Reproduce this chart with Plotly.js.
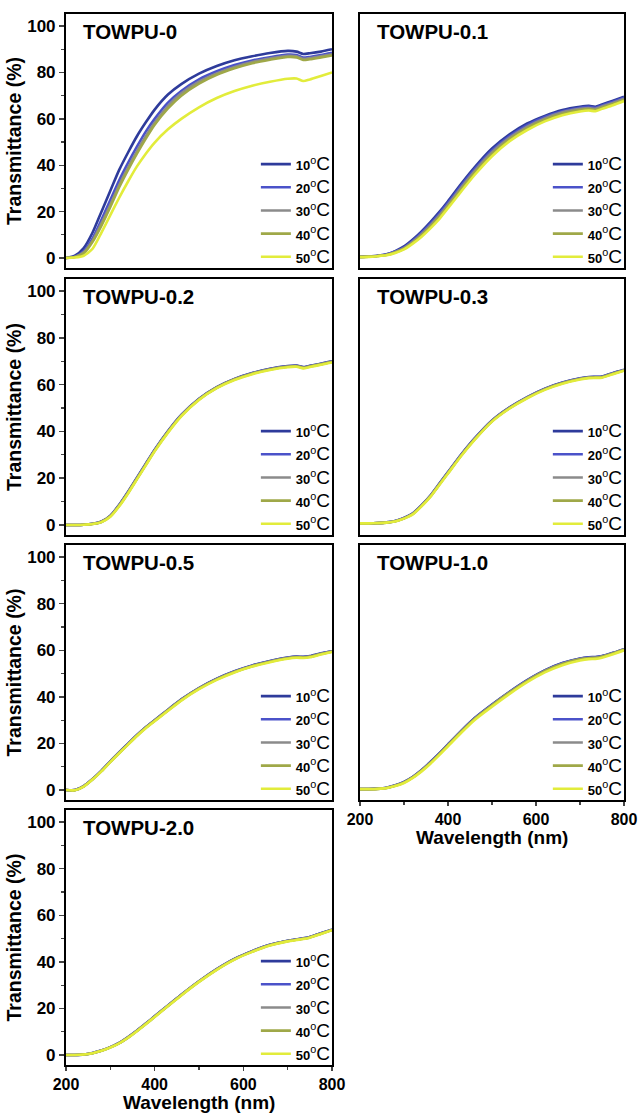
<!DOCTYPE html>
<html><head><meta charset="utf-8">
<script src="https://cdn.plot.ly/plotly-3.0.1.min.js"></script>
<style>html,body{margin:0;padding:0;background:#fff}</style>
</head><body><div id="chart" style="width:640px;height:1113px"></div>
<script>
// Wavelength grid (nm)
const wavelength = [200,220,240,260,280,300,320,340,360,380,400,430,460,500,540,580,620,660,700,720,735,750,775,800];
const temperatureLabels = ['10','20','30','40','50'];
const sampleNames = ['TOWPU-0','TOWPU-0.1','TOWPU-0.2','TOWPU-0.3','TOWPU-0.5','TOWPU-1.0','TOWPU-2.0'];
const xTitle = 'Wavelength (nm)';
const yTitle = 'Transmittance (%)';

// TOWPU-0
const towpu0_10C = [0,1,4.3,11,20,29,38,45.5,52.5,58.5,64,70.5,75,79.5,82.8,85.3,87,88.4,89.3,89,88,88.3,89,90];
const towpu0_20C = [0,0.6,3,8.5,16.5,25,33.5,41,48,54.5,60,67,72,77,80.5,83.2,85.2,86.6,87.7,87.5,86.4,86.7,87.5,88.5];
const towpu0_30C = [0,0.5,2.5,7.5,15,23,31.5,39,46,52.5,58.3,65.5,71,76,79.6,82.4,84.5,86,87.2,87,85.9,86.2,87,87.8];
const towpu0_40C = [0,0.4,2,7,14,22,30.5,38,45,51.5,57.5,64.5,70,75.2,79,81.8,84,85.5,86.7,86.5,85.4,85.7,86.5,87.3];
const towpu0_50C = [0,0.2,1,4,11,18.5,26,33,39.5,45,49.8,55.5,60,65,69,72,74.3,76,77.3,77.4,76.3,77,78.5,80];
// TOWPU-0.1
const towpu01_10C = [0.5,0.7,1,1.6,3,5,8,11.5,15.5,19.8,24.5,32,39,47.2,53.3,58,61.3,63.8,65.2,65.6,65.2,66.2,67.8,69.5];
const towpu01_20C = [0.5,0.7,1,1.5,2.8,4.6,7.5,10.9,14.8,19.1,23.8,31.2,38.2,46.4,52.6,57.3,60.8,63.3,64.8,65.2,64.8,65.8,67.4,69.1];
const towpu01_30C = [0.5,0.6,0.9,1.4,2.6,4.3,7,10.3,14.1,18.3,23,30.4,37.4,45.6,51.9,56.7,60.2,62.8,64.3,64.7,64.3,65.3,66.9,68.7];
const towpu01_40C = [0.5,0.6,0.9,1.3,2.4,4,6.6,9.8,13.5,17.6,22.3,29.6,36.6,44.8,51.2,56,59.6,62.2,63.8,64.2,63.8,64.8,66.4,68.2];
const towpu01_50C = [0.4,0.5,0.8,1.2,2.2,3.7,6.2,9.2,12.8,16.8,21.5,28.7,35.7,43.9,50.4,55.2,58.9,61.6,63.2,63.6,63.3,64.3,65.9,67.7];
// TOWPU-0.2
const towpu02_10C = [0,0,0.1,0.5,1.5,4,8.6,14.2,20.2,26.2,32.2,40.2,47.1,54,59,62.5,65,66.8,68,68.2,67.5,68.1,69,70];
const towpu02_20C = [0,0,0.1,0.5,1.4,3.9,8.5,14,20,26,32,40,47,53.9,58.9,62.4,64.9,66.7,67.9,68.1,67.4,68,68.9,69.9];
const towpu02_30C = [0,0,0.1,0.5,1.4,3.8,8.4,13.9,19.9,25.9,31.9,39.9,46.9,53.8,58.8,62.3,64.8,66.6,67.8,68,67.3,67.9,68.8,69.8];
const towpu02_40C = [0,0,0.1,0.4,1.3,3.7,8.2,13.7,19.7,25.7,31.7,39.7,46.7,53.7,58.7,62.2,64.7,66.5,67.7,67.9,67.2,67.8,68.7,69.7];
const towpu02_50C = [0,0,0.1,0.4,1.2,3.5,8,13.5,19.5,25.5,31.5,39.5,46.5,53.5,58.5,62,64.5,66.3,67.5,67.7,67,67.6,68.5,69.5];
// TOWPU-0.3
const towpu03_10C = [0.7,0.7,0.8,1.1,1.7,3,5,8.5,12.6,17.6,22.6,30.1,36.9,44.7,50.3,54.7,58.3,60.9,62.7,63.3,63.4,63.5,65,66.4];
const towpu03_20C = [0.7,0.7,0.8,1.1,1.7,3,4.9,8.4,12.5,17.5,22.5,30,36.8,44.6,50.2,54.6,58.2,60.8,62.6,63.2,63.3,63.4,64.9,66.3];
const towpu03_30C = [0.7,0.7,0.8,1,1.6,2.9,4.8,8.3,12.3,17.3,22.3,29.8,36.6,44.5,50.1,54.5,58.1,60.7,62.5,63.1,63.2,63.3,64.8,66.2];
const towpu03_40C = [0.7,0.7,0.8,1,1.6,2.8,4.7,8.2,12.2,17.2,22.2,29.7,36.5,44.4,50,54.4,58,60.6,62.4,63,63.1,63.2,64.7,66.1];
const towpu03_50C = [0.7,0.7,0.8,1,1.5,2.7,4.5,8,12,17,22,29.5,36.3,44.2,49.8,54.2,57.8,60.4,62.2,62.8,62.9,63,64.5,66];
// TOWPU-0.5
const towpu05_10C = [0,0,1.7,4.7,8.3,12.3,16.2,19.9,23.6,27,30,34.5,38.9,43.8,47.8,51,53.5,55.4,56.9,57.3,57.2,57.5,58.7,59.6];
const towpu05_20C = [0,0,1.7,4.7,8.2,12.3,16.1,19.8,23.5,26.9,29.9,34.4,38.8,43.7,47.7,50.9,53.4,55.3,56.8,57.2,57.1,57.4,58.6,59.6];
const towpu05_30C = [0,0,1.6,4.6,8.2,12.2,16,19.7,23.4,26.8,29.8,34.3,38.7,43.6,47.6,50.8,53.3,55.2,56.7,57.1,57,57.3,58.5,59.5];
const towpu05_40C = [0,-0.1,1.6,4.6,8.1,12.1,15.9,19.6,23.3,26.7,29.7,34.2,38.6,43.5,47.5,50.7,53.2,55.1,56.6,57,56.9,57.2,58.4,59.4];
const towpu05_50C = [0,-0.1,1.5,4.5,8,12,15.8,19.5,23.2,26.5,29.5,34,38.4,43.3,47.3,50.5,53,54.9,56.4,56.8,56.7,57,58.2,59.3];
// TOWPU-1.0
const towpu10_10C = [0.4,0.4,0.6,1,2,3.5,5.7,8.6,12,15.7,19.6,25.4,30.8,36.7,42.2,47.2,51.4,54.5,56.5,57,57.1,57.5,58.9,60.5];
const towpu10_20C = [0.4,0.4,0.6,1,1.9,3.4,5.6,8.5,11.9,15.6,19.5,25.3,30.7,36.6,42.1,47.1,51.3,54.4,56.4,56.9,57,57.4,58.8,60.4];
const towpu10_30C = [0.4,0.4,0.5,0.9,1.9,3.3,5.5,8.4,11.7,15.4,19.3,25.1,30.5,36.4,41.9,46.9,51.1,54.2,56.2,56.7,56.8,57.3,58.7,60.3];
const towpu10_40C = [0.4,0.4,0.5,0.9,1.8,3.2,5.4,8.3,11.6,15.3,19.2,25,30.4,36.3,41.8,46.8,51,54.1,56.1,56.6,56.7,57.2,58.6,60.2];
const towpu10_50C = [0.4,0.4,0.5,0.8,1.7,3,5.2,8,11.3,15,18.8,24.6,30,35.8,41.3,46.3,50.5,53.6,55.6,56.2,56.3,56.8,58.3,60];
// TOWPU-2.0
const towpu20_10C = [0,0,0.2,0.9,1.9,3.4,5.2,7.7,10.5,13.5,16.6,21.3,25.9,31.7,36.9,41.3,44.6,47.3,49.1,49.7,50.1,50.7,52.3,53.8];
const towpu20_20C = [0,0,0.2,0.9,1.9,3.4,5.2,7.6,10.4,13.5,16.6,21.3,25.9,31.7,36.9,41.3,44.6,47.3,49.1,49.7,50.1,50.7,52.3,53.8];
const towpu20_30C = [0,0,0.2,0.8,1.9,3.3,5.1,7.6,10.4,13.4,16.5,21.2,25.8,31.6,36.8,41.2,44.5,47.2,49,49.6,50,50.6,52.2,53.7];
const towpu20_40C = [0,0,0.2,0.8,1.8,3.3,5.1,7.5,10.3,13.3,16.4,21.1,25.7,31.5,36.7,41.1,44.4,47.1,48.9,49.5,49.9,50.5,52.1,53.7];
const towpu20_50C = [0,0,0.2,0.8,1.8,3.2,5,7.4,10.2,13.2,16.3,21,25.6,31.4,36.6,41,44.3,47,48.8,49.4,49.8,50.4,52,53.6];

const yTickVals = [0,20,40,60,80,100];
const xTickVals = [200,400,600,800];

const panelSeries = [
  [towpu0_10C,towpu0_20C,towpu0_30C,towpu0_40C,towpu0_50C],
  [towpu01_10C,towpu01_20C,towpu01_30C,towpu01_40C,towpu01_50C],
  [towpu02_10C,towpu02_20C,towpu02_30C,towpu02_40C,towpu02_50C],
  [towpu03_10C,towpu03_20C,towpu03_30C,towpu03_40C,towpu03_50C],
  [towpu05_10C,towpu05_20C,towpu05_30C,towpu05_40C,towpu05_50C],
  [towpu10_10C,towpu10_20C,towpu10_30C,towpu10_40C,towpu10_50C],
  [towpu20_10C,towpu20_20C,towpu20_30C,towpu20_40C,towpu20_50C]
];

const colors = ['#2e3b9b','#4b52c9','#8b8b8b','#9fa848','#e2ec3b'];
const FONT = 'Liberation Sans, Arial, sans-serif';
const xDomains = [[0.1031,0.5188],[0.5625,0.975]];
const yDomains = [[0.7592,0.9874],[0.5193,0.7493],[0.2812,0.5103],[0.0431,0.2722]];

const traces = [];
const layout = {
  width:640, height:1113, margin:{l:0,r:0,t:0,b:0},
  paper_bgcolor:'#fff', plot_bgcolor:'#fff', showlegend:true,
  font:{family:FONT, color:'#000'}, annotations:[]
};

panelSeries.forEach((series, i) => {
  const row = Math.floor(i/2), col = i%2;
  const ax = i === 0 ? '' : String(i+1);
  const legName = i === 0 ? 'legend' : 'legend' + (i+1);
  series.forEach((vals, k) => {
    traces.push({
      x: wavelength, y: vals, type:'scatter', mode:'lines',
      line:{color:colors[k], width:2.6, shape:'spline', smoothing:0.6},
      name:'<span style="font-size:13px;font-weight:bold">' + temperatureLabels[k] +
           '</span><sup>o</sup><span style="font-size:19px">C</span>',
      xaxis:'x'+ax, yaxis:'y'+ax, legend:legName, hoverinfo:'skip'
    });
  });
  const showX = (i === 5 || i === 6);
  const showY = (col === 0);
  layout['xaxis'+ax] = {
    domain:xDomains[col], anchor:'y'+ax, range:[200,800],
    showline:true, mirror:true, linewidth:2, linecolor:'#000',
    showgrid:false, zeroline:false,
    tickvals:xTickVals, ticks: showX ? 'outside' : '', ticklen:4, tickwidth:1.5,
    showticklabels:showX,
    tickfont:{family:FONT, size:16, weight:'bold', color:'#000'},
    minor: showX ? {tickvals:[300,500,700], ticks:'outside', ticklen:3, tickwidth:1.2} : undefined
  };
  layout['yaxis'+ax] = {
    domain:yDomains[row], anchor:'x'+ax, range:[-4.3,105.2],
    showline:true, mirror:true, linewidth:2, linecolor:'#000',
    showgrid:false, zeroline:false,
    tickvals:yTickVals, ticks: showY ? 'outside' : '', ticklen:5, tickwidth:1.5,
    showticklabels:showY,
    tickfont:{family:FONT, size:17, weight:'bold', color:'#000'},
    minor: showY ? {tickvals:[10,30,50,70,90], ticks:'outside', ticklen:3, tickwidth:1.2} : undefined,
    title: showY ? {text:yTitle, font:{family:FONT, size:19.5, weight:'bold', color:'#000'}, standoff:0} : undefined
  };
  if (showX) {
    const yc = (i === 5) ? 837 : 1102;
    layout.annotations.push({
      text:'<b>' + xTitle + '</b>', xref:'x'+ax+' domain', yref:'paper',
      x:0.5, y:1 - yc/1113, xanchor:'center', yanchor:'middle', showarrow:false,
      font:{family:FONT, size:19, color:'#000'}
    });
  }
  layout[legName] = {
    x:xDomains[col][1]+0.006, xanchor:'right', xref:'paper',
    y:yDomains[row][0]-0.005, yanchor:'bottom', yref:'paper',
    bgcolor:'rgba(0,0,0,0)', borderwidth:0,
    font:{family:FONT, size:15.5, color:'#000'}, itemwidth:30, tracegroupgap:0
  };
  layout.annotations.push({
    text:'<b>' + sampleNames[i] + '</b>', xref:'x'+ax+' domain', yref:'y'+ax+' domain',
    x:0.055, y:1, xanchor:'left', yanchor:'top', yshift:-4, showarrow:false,
    font:{family:FONT, size:20.5, color:'#000'}
  });
});

Plotly.newPlot('chart', traces, layout, {staticPlot:true, displayModeBar:false});
</script>
</body></html>
